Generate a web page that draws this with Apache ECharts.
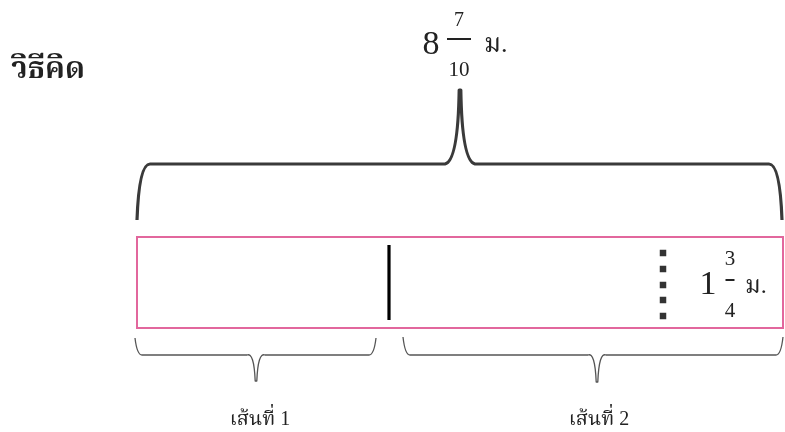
<!DOCTYPE html>
<html><head><meta charset="utf-8">
<script src="https://cdn.jsdelivr.net/npm/echarts@6/dist/echarts.min.js"></script>
<style>html,body{margin:0;padding:0;background:#fff}#c{width:785px;height:432px}</style>
</head><body><div id="c"></div>
<script>
// ---- content ----
const titleText = ['วิธีคิด'];
const totalLength = ['8', '7', '10', 'ม.'];   // whole, numerator, denominator, unit
const partLength = ['1', '3', '4', 'ม.'];     // whole, numerator, denominator, unit
const segmentNames = ['เส้นที่ 1', 'เส้นที่ 2'];

// ---- diagram geometry in axis units (x 0-785, y 0-432 downward) ----
const barRect = [[137, 237, 783, 328]];
const totalBrace = [[137, 782, 220, 164, 90, 460]];          // x1, x2, yEnd, yBar, yTip, xTip
const segmentBraces = [[135, 376, 338, 355, 381, 256], [403, 783, 337, 355, 382, 597]];
const dividerLine = [[389, 245], [389, 320]];
const markerDots = [[663, 253], [663, 269], [663, 285], [663, 300], [663, 316]];
const titleAnchor = [[48, 70]];
const totalAnchor = [[459, 45]];
const partAnchor = [[730, 285]];
const segmentLabelAnchor = [[260, 420], [599, 420]];

const SERIF = "'Liberation Serif','DejaVu Serif','Noto Serif Thai','Noto Sans Thai',serif";
const INK = '#222';

function bracePath(api, curl, half) {
  const x1 = api.value(0), x2 = api.value(1), yE = api.value(2), yB = api.value(3), yT = api.value(4), xT = api.value(5);
  const P = (x, y) => api.coord([x, y]).join(' ');
  return 'M' + P(x1, yE) +
    ' Q' + P(x1 + 2, yB) + ' ' + P(x1 + curl, yB) +
    ' L' + P(xT - half, yB) +
    ' Q' + P(xT - 2, yB - 3) + ' ' + P(xT - 0.8, yT) +
    ' L' + P(xT + 0.8, yT) +
    ' Q' + P(xT + 2, yB - 3) + ' ' + P(xT + half, yB) +
    ' L' + P(x2 - curl, yB) +
    ' Q' + P(x2 - 2, yB) + ' ' + P(x2, yE);
}

function txt(api, x, y, text, size, align, weight) {
  const p = api.coord([x, y]);
  return { type: 'text', x: p[0], y: p[1], style: {
    text: text, fontSize: size, fontFamily: SERIF, fontWeight: weight || 'normal',
    fill: INK, align: align || 'center', verticalAlign: 'middle' } };
}
function hline(api, xa, xb, y, w) {
  const a = api.coord([xa, y]), b = api.coord([xb, y]);
  return { type: 'line', shape: { x1: a[0], y1: a[1], x2: b[0], y2: b[1] }, style: { stroke: INK, lineWidth: w } };
}

const option = {
  animation: false,
  backgroundColor: '#fff',
  grid: { left: 0, right: 0, top: 0, bottom: 0 },
  xAxis: { type: 'value', min: 0, max: 785, show: false },
  yAxis: { type: 'value', min: 0, max: 432, inverse: true, show: false },
  series: [
    { type: 'custom', name: 'bar', data: barRect, silent: true,
      renderItem: (params, api) => {
        const a = api.coord([api.value(0), api.value(1)]), b = api.coord([api.value(2), api.value(3)]);
        return { type: 'rect', shape: { x: a[0], y: a[1], width: b[0] - a[0], height: b[1] - a[1] },
          style: { fill: 'none', stroke: '#e2679d', lineWidth: 2 } };
      } },
    { type: 'custom', name: 'total brace', data: totalBrace, silent: true,
      renderItem: (params, api) => ({ type: 'path', shape: { pathData: bracePath(api, 13, 15) },
        style: { fill: 'none', stroke: '#3a3a3a', lineWidth: 3.2, lineJoin: 'round' } }) },
    { type: 'custom', name: 'segment braces', data: segmentBraces, silent: true,
      renderItem: (params, api) => ({ type: 'path', shape: { pathData: bracePath(api, 7, 9) },
        style: { fill: 'none', stroke: '#555', lineWidth: 1.3, lineJoin: 'round' } }) },
    { type: 'line', name: 'divider', data: dividerLine, showSymbol: false, silent: true,
      lineStyle: { color: '#000', width: 3.2 } },
    { type: 'scatter', name: 'marker', data: markerDots, symbol: 'rect', symbolSize: 6.5, silent: true,
      itemStyle: { color: '#000' } },
    { type: 'custom', name: 'title', data: titleAnchor, silent: true,
      renderItem: (params, api) => txt(api, api.value(0), api.value(1), titleText[0], 30, 'center', 'bold') },
    { type: 'custom', name: 'total', data: totalAnchor, silent: true,
      renderItem: (params, api) => {
        const x = api.value(0), y = api.value(1);
        return { type: 'group', children: [
          txt(api, x - 28, y, totalLength[0], 34),
          txt(api, x, y - 24, totalLength[1], 20),
          hline(api, x - 12, x + 12, y - 6, 2),
          txt(api, x, y + 25, totalLength[2], 21),
          txt(api, x + 25, y, totalLength[3], 26, 'left')
        ] };
      } },
    { type: 'custom', name: 'part', data: partAnchor, silent: true,
      renderItem: (params, api) => {
        const x = api.value(0), y = api.value(1);
        return { type: 'group', children: [
          txt(api, x - 22, y, partLength[0], 34),
          txt(api, x, y - 26, partLength[1], 21),
          hline(api, x - 4.5, x + 4.5, y - 5, 2),
          txt(api, x, y + 26, partLength[2], 21),
          txt(api, x + 15, y + 2, partLength[3], 24, 'left')
        ] };
      } },
    { type: 'custom', name: 'segment names', data: segmentLabelAnchor, silent: true,
      renderItem: (params, api) => txt(api, api.value(0), api.value(1), segmentNames[params.dataIndex], 20) }
  ]
};
const chart = echarts.init(document.getElementById('c'), null, { renderer: 'canvas' });
chart.setOption(option);
</script></body></html>
